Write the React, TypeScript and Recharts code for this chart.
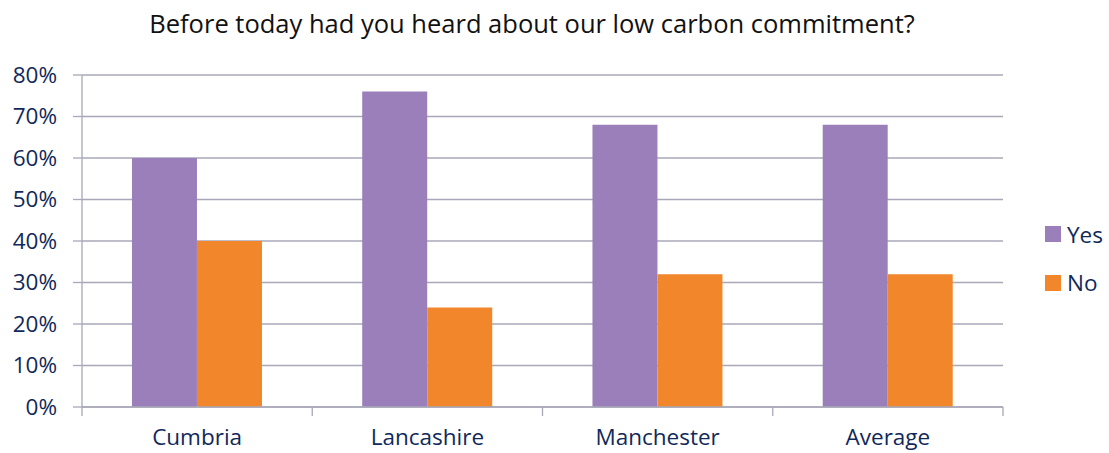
import { BarChart, Bar, XAxis, YAxis, CartesianGrid } from 'recharts';

const regions = ['Cumbria', 'Lancashire', 'Manchester', 'Average'];
const yesShare = [0.6, 0.76, 0.68, 0.68];
const noShare = [0.4, 0.24, 0.32, 0.32];
const percentTicks = [0, 0.1, 0.2, 0.3, 0.4, 0.5, 0.6, 0.7, 0.8];

const series = [
  { key: 'Yes', color: '#9b7fba' },
  { key: 'No', color: '#f2862a' },
];

const chartData = regions.map((region, i) => ({
  region,
  Yes: yesShare[i],
  No: noShare[i],
}));

const FONT = '"Open Sans", Calibri, sans-serif';
const NAVY = '#10295a';
const GRID = '#a8a8b8';

// category label plus the little divider ticks on both sides of each band
const RegionTick = (props: any) => {
  const { x, y, payload, index } = props;
  const half = payload.offset ?? 0;
  return (
    <g>
      {index === 0 && (
        <line x1={x - half} x2={x - half} y1={y - 6} y2={y + 3} stroke={GRID} strokeWidth={1.3} />
      )}
      <line x1={x + half} x2={x + half} y1={y - 6} y2={y + 3} stroke={GRID} strokeWidth={1.3} />
      <text x={x} y={y + 32} textAnchor="middle" fill={NAVY} fontSize={22.5} fontFamily={FONT}>
        {payload.value}
      </text>
    </g>
  );
};

export default function App() {
  return (
    <div style={{ position: 'absolute', left: 0, top: 0, width: 1109, height: 453, background: '#fff' }}>
      <div
        style={{
          position: 'absolute',
          left: 0,
          width: 1064,
          top: 6,
          textAlign: 'center',
          fontFamily: FONT,
          fontSize: 25.5,
          color: '#111',
          whiteSpace: 'nowrap',
        }}
      >
        Before today had you heard about our low carbon commitment?
      </div>
      <BarChart
        width={1109}
        height={453}
        data={chartData}
        margin={{ top: 75, right: 106, bottom: 0, left: 0 }}
        barCategoryGap="21.7%"
        barGap={0}
      >
        <CartesianGrid horizontal vertical={false} stroke={GRID} strokeWidth={1.3} />
        <XAxis
          dataKey="region"
          axisLine={{ stroke: GRID, strokeWidth: 1.3 }}
          tickLine={false}
          tick={<RegionTick />}
          tickSize={6}
          tickMargin={0}
          height={46}
          interval={0}
        />
        <YAxis
          domain={[0, 0.8]}
          ticks={percentTicks}
          tickFormatter={(v: number) => `${Math.round(v * 100)}%`}
          axisLine={{ stroke: GRID, strokeWidth: 1.3 }}
          tickLine={{ stroke: GRID, strokeWidth: 1.3 }}
          tickSize={9}
          tickMargin={16}
          tick={{ fill: NAVY, fontSize: 22.5, fontFamily: FONT }}
          width={82}
        />
        {series.map((s) => (
          <Bar key={s.key} dataKey={s.key} fill={s.color} isAnimationActive={false} />
        ))}
      </BarChart>
      <div style={{ position: 'absolute', left: 1045, top: 210, fontFamily: FONT }}>
        {series.map((s) => (
          <div key={s.key} style={{ display: 'flex', alignItems: 'center', height: 48.5 }}>
            <span style={{ width: 16, height: 16, background: s.color, marginRight: 6 }} />
            <span style={{ color: NAVY, fontSize: 22.5 }}>{s.key}</span>
          </div>
        ))}
      </div>
    </div>
  );
}
